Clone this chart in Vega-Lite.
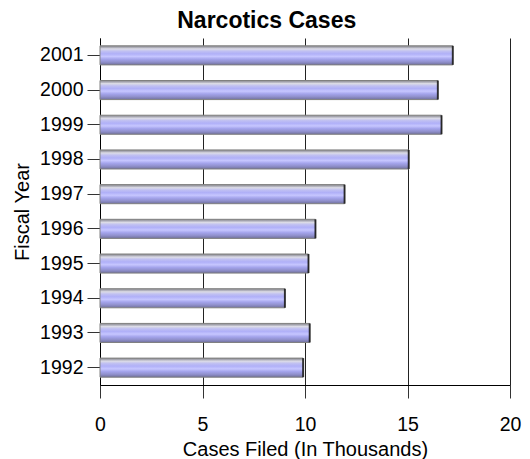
{
  "$schema": "https://vega.github.io/schema/vega-lite/v6.json",
  "width": 410,
  "height": 347,
  "autosize": {"type": "none"},
  "padding": {"left": 100, "top": 38, "right": 20, "bottom": 74},
  "background": "white",
  "title": {
    "text": "Narcotics Cases",
    "font": "Liberation Sans",
    "fontSize": 23,
    "fontWeight": "bold",
    "color": "black",
    "anchor": "middle",
    "frame": "bounds",
    "offset": 5
  },
  "config": {
    "view": {"stroke": null},
    "axis": {
      "labelFont": "Liberation Sans",
      "titleFont": "Liberation Sans",
      "labelFontSize": 19.5,
      "titleFontSize": 20,
      "titleFontWeight": "normal",
      "labelColor": "black",
      "titleColor": "black",
      "domainColor": "black",
      "tickColor": "#333333",
      "gridColor": "#222222",
      "gridOpacity": 1
    }
  },
  "data": {
    "values": [
      {"year": "1992", "cases": 9.91},
      {"year": "1993", "cases": 10.23},
      {"year": "1994", "cases": 9.02},
      {"year": "1995", "cases": 10.17},
      {"year": "1996", "cases": 10.51},
      {"year": "1997", "cases": 11.93},
      {"year": "1998", "cases": 15.06},
      {"year": "1999", "cases": 16.66},
      {"year": "2000", "cases": 16.48},
      {"year": "2001", "cases": 17.21}
    ]
  },
  "encoding": {
    "y": {
      "field": "year",
      "type": "ordinal",
      "sort": "descending",
      "scale": {"paddingInner": 0.45, "paddingOuter": 0.225},
      "axis": {
        "title": "Fiscal Year",
        "tickSize": 13,
        "labelPadding": 4,
        "titlePadding": 7,
        "grid": false
      }
    },
    "x": {
      "field": "cases",
      "type": "quantitative",
      "scale": {"domain": [0, 20], "nice": false},
      "axis": {
        "title": "Cases Filed (In Thousands)",
        "values": [0, 5, 10, 15, 20],
        "labelFlush": false,
        "tickSize": 13,
        "labelPadding": 17,
        "titlePadding": 6,
        "grid": true,
        "gridWidth": 1
      }
    }
  },
  "layer": [
    {
      "mark": {
        "type": "bar",
        "stroke": "#808080",
        "strokeWidth": 1,
        "color": {
          "gradient": "linear",
          "x1": 0, "y1": 0, "x2": 0, "y2": 1,
          "stops": [
            {"offset": 0, "color": "#8c8c8c"},
            {"offset": 0.08, "color": "#a8a8b4"},
            {"offset": 0.16, "color": "#dcdce6"},
            {"offset": 0.28, "color": "#c0c0f2"},
            {"offset": 0.42, "color": "#b0b0f8"},
            {"offset": 0.56, "color": "#c6c6ff"},
            {"offset": 0.7, "color": "#a4a4ec"},
            {"offset": 0.85, "color": "#9090cc"},
            {"offset": 1, "color": "#70709c"}
          ]
        }
      }
    },
    {
      "mark": {"type": "tick", "color": "black", "thickness": 2, "size": 19, "orient": "vertical"}
    }
  ]
}
